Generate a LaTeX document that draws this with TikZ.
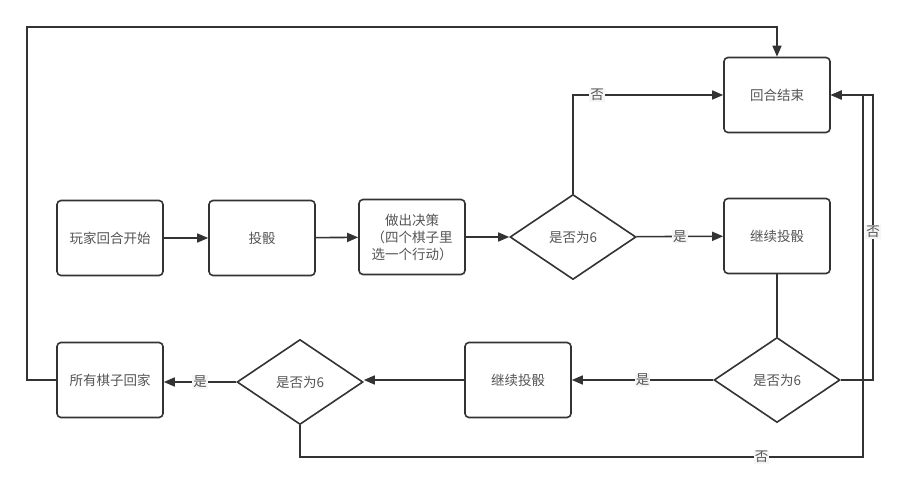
\documentclass[tikz,border=0pt]{standalone}
\usepackage{fontspec}
\setmainfont{Noto Sans CJK SC}
\usetikzlibrary{arrows.meta,shapes.geometric}
\definecolor{ln}{HTML}{333333}
\definecolor{tx}{HTML}{555555}
\begin{document}
\begin{tikzpicture}[x=1pt,y=-1pt,
  every node/.style={font=\fontsize{13.5}{17}\selectfont, text=tx},
  box/.style={draw=ln, line width=1.6pt, rounded corners=4pt, minimum width=106pt, minimum height=75pt, align=center, inner sep=2pt},
  dia/.style={draw=ln, line width=1.6pt, diamond, aspect=1.5, inner sep=0pt, minimum width=126pt, minimum height=85pt},
  con/.style={draw=ln, line width=1.6pt},
  arr/.style={con, -{Triangle[length=11pt,width=9pt]}},
  lbl/.style={fill=gray!8, inner sep=1pt, text=tx}]
\useasboundingbox (0,0) rectangle (900,484);
\fill[white] (0,0) rectangle (900,484);
\node[box] (A) at (110,238) {玩家回合开始};
\node[box] (B) at (262,238) {投骰};
\node[box] (C) at (412,237) {做出决策\\（四个棋子里\\选一个行动）};
\node[dia] (D1) at (573,237) {是否为6};
\node[box] (E) at (777,236) {继续投骰};
\node[box] (F) at (777,95) {回合结束};
\node[dia] (D3) at (777,380) {是否为6};
\node[box] (G) at (518,380) {继续投骰};
\node[dia] (D2) at (300,382) {是否为6};
\node[box] (H) at (110,380) {所有棋子回家};
\coordinate (cL) at (27,27);
\coordinate (cR) at (873,380);
\coordinate (cB) at (863,457);
\draw[arr] (A) -- (B);
\draw[arr] (B) -- (C);
\draw[arr] (C) -- (D1);
\draw[arr] (D1) -- node[lbl]{是} (E);
\draw[arr] (D1.north) |- node[lbl,pos=0.58]{否} (F.west);
\draw[con] (E.south) -- (D3.north);
\draw[arr] (D3.west) -- node[lbl]{是} (G.east);
\draw[arr] (G.west) -- (D2.east |- G.west);
\draw[arr] (D2.west) -- node[lbl]{是} (H.east |- D2.west);
\draw[arr] (D3.east) -- (cR) |- node[lbl,pos=0.26]{否} (F.east);
\draw[arr] (D2.south) |- node[lbl,pos=0.91]{否} (cB) |- (F.east);
\draw[arr] (H.west) -| (cL) -| (F.north);
\end{tikzpicture}
\end{document}
